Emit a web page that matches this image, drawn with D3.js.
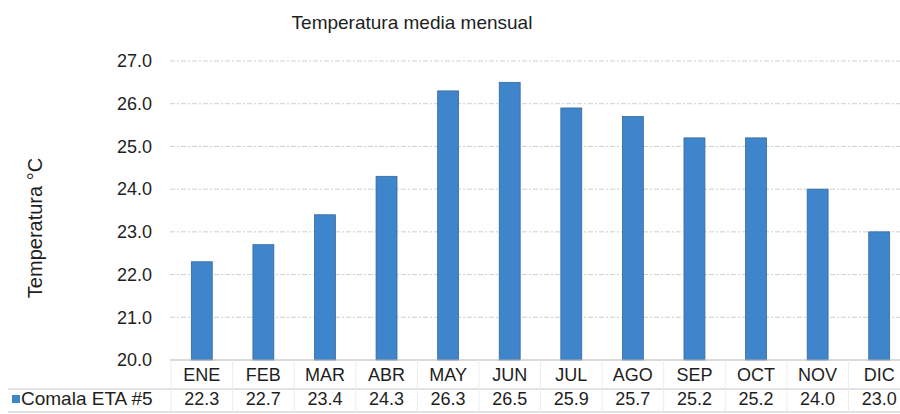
<!DOCTYPE html>
<html>
<head>
<meta charset="utf-8">
<script src="https://cdn.jsdelivr.net/npm/d3@7"></script>
<style>
  body { margin: 0; background: #fff; }
  svg { display: block; font-family: 'Liberation Sans', Arial, sans-serif; }
</style>
</head>
<body>
<div id="graphic"></div>
<script>
'use strict';
const months = [`ENE`, `FEB`, `MAR`, `ABR`, `MAY`, `JUN`, `JUL`, `AGO`, `SEP`, `OCT`, `NOV`, `DIC`];
const temps = [22.3, 22.7, 23.4, 24.3, 26.3, 26.5, 25.9, 25.7, 25.2, 25.2, 24.0, 23.0];
const yTicks = [20, 21, 22, 23, 24, 25, 26, 27];
const seriesName = `Comala ETA #5`;
const title = `Temperatura media mensual`;
const yTitle = `Temperatura °C`;

(function (d3) {
  const width = 900;
  const height = 414;
  const barColor = `#3f85cb`;
  const textColor = `#1e1e1e`;

  const svg = d3.select(`div#graphic`).append(`svg`).attr(`width`, width).attr(`height`, height);

  const x = d3.scaleBand().domain(months).range([171, 910]).paddingInner(0.66).paddingOuter(0.33);
  const y = d3.scaleLinear().domain([20, 27]).range([360, 61]);

  // Title
  svg
    .append(`text`)
    .attr(`x`, 412)
    .attr(`y`, 29)
    .attr(`text-anchor`, `middle`)
    .attr(`font-size`, 19)
    .attr(`fill`, textColor)
    .text(title);

  // Gridlines
  svg
    .append(`g`)
    .selectAll(`line`)
    .data(yTicks.filter((d) => d > 20))
    .join(`line`)
    .attr(`x1`, 170)
    .attr(`x2`, width)
    .attr(`y1`, (d) => y(d))
    .attr(`y2`, (d) => y(d))
    .attr(`stroke`, `#cfcfcf`)
    .attr(`stroke-width`, 1)
    .attr(`stroke-dasharray`, `5,2,2,2`);

  // Y tick labels
  svg
    .append(`g`)
    .attr(`font-size`, 18)
    .attr(`text-anchor`, `end`)
    .attr(`fill`, textColor)
    .selectAll(`text`)
    .data(yTicks)
    .join(`text`)
    .attr(`x`, 152)
    .attr(`y`, (d) => y(d))
    .attr(`dy`, `0.35em`)
    .text((d) => d.toFixed(1));

  // Y axis title
  svg
    .append(`text`)
    .attr(`transform`, `translate(42,228) rotate(-90)`)
    .attr(`text-anchor`, `middle`)
    .attr(`font-size`, 20)
    .attr(`fill`, textColor)
    .text(yTitle);

  // Bars
  svg
    .append(`g`)
    .selectAll(`rect`)
    .data(temps)
    .join(`rect`)
    .attr(`x`, (d, i) => x(months[i]))
    .attr(`width`, x.bandwidth())
    .attr(`y`, (d) => y(d))
    .attr(`height`, (d) => y(20) - y(d))
    .attr(`fill`, barColor)
    .attr(`stroke`, `#34699f`)
    .attr(`stroke-width`, 0.8);

  // Data table lines
  const tableTop = y(20);
  const rowLine = 389;
  const tableBottom = 412;
  svg
    .append(`line`)
    .attr(`x1`, 170)
    .attr(`x2`, width)
    .attr(`y1`, tableTop)
    .attr(`y2`, tableTop)
    .attr(`stroke`, `#b5b5b5`);
  svg
    .append(`g`)
    .attr(`stroke`, `#c4c4c4`)
    .selectAll(`line`)
    .data([rowLine, tableBottom])
    .join(`line`)
    .attr(`x1`, 8)
    .attr(`x2`, width)
    .attr(`y1`, (d) => d)
    .attr(`y2`, (d) => d);

  // Column dividers
  svg
    .append(`g`)
    .attr(`stroke`, `#ececec`)
    .selectAll(`line`)
    .data(months)
    .join(`line`)
    .attr(`x1`, (d) => x(d) - (x.step() - x.bandwidth()) / 2)
    .attr(`x2`, (d) => x(d) - (x.step() - x.bandwidth()) / 2)
    .attr(`y1`, tableTop)
    .attr(`y2`, tableBottom);

  // Category labels
  svg
    .append(`g`)
    .attr(`font-size`, 18)
    .attr(`text-anchor`, `middle`)
    .attr(`fill`, textColor)
    .selectAll(`text`)
    .data(months)
    .join(`text`)
    .attr(`x`, (d) => x(d) + x.bandwidth() / 2)
    .attr(`y`, 381)
    .text((d) => d);

  // Values row
  svg
    .append(`g`)
    .attr(`font-size`, 18)
    .attr(`text-anchor`, `middle`)
    .attr(`fill`, textColor)
    .selectAll(`text`)
    .data(temps)
    .join(`text`)
    .attr(`x`, (d, i) => x(months[i]) + x.bandwidth() / 2)
    .attr(`y`, 405)
    .text((d) => d.toFixed(1));

  // Legend key
  svg.append(`rect`).attr(`x`, 12).attr(`y`, 395).attr(`width`, 8).attr(`height`, 8).attr(`fill`, barColor);
  svg
    .append(`text`)
    .attr(`x`, 21)
    .attr(`y`, 405)
    .attr(`font-size`, 19)
    .attr(`fill`, textColor)
    .text(seriesName);
})(d3);
</script>
</body>
</html>
